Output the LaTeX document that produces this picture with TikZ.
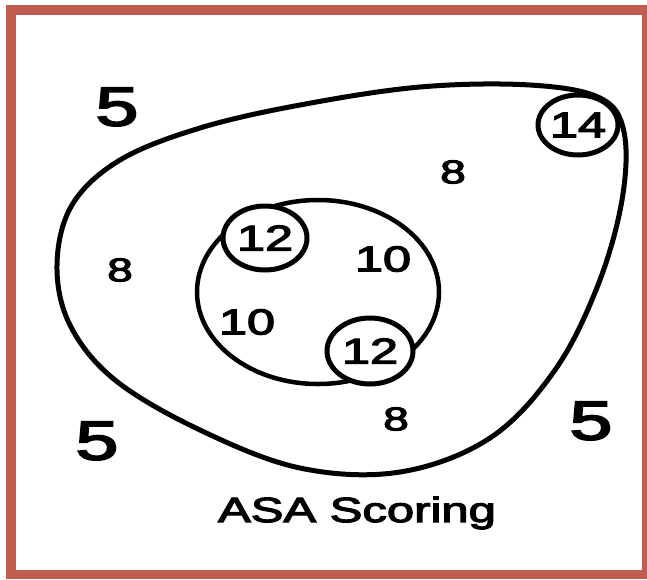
\documentclass[tikz,border=0pt]{standalone}
\usepackage{fontspec}
\setmainfont{Liberation Sans}
\newfontfamily\medf{Liberation Sans}[FakeBold=3]
\usetikzlibrary{shapes.geometric}
\definecolor{framered}{RGB}{192,92,80}
\newcommand\hstretch[1]{\scalebox{1.4}[1]{\medf #1}}
\tikzset{
  bigfive/.style={inner sep=0pt, font=\fontsize{55}{55}\selectfont},
  num/.style={inner sep=0pt, font=\fontsize{36}{36}\selectfont},
  small/.style={inner sep=0pt, font=\fontsize{33}{33}\selectfont},
  ring/.style={draw, ellipse, fill=white, line width=5pt, inner sep=0pt},
  outline/.style={line width=5pt}
}
\begin{document}
\begin{tikzpicture}[x=1pt,y=-1pt]
\useasboundingbox (0,0) rectangle (647,579);
\fill[white] (0,0) rectangle (647,579);
\fill[framered] (6,5) rectangle (647,579);
\fill[white] (16,15) rectangle (642,570);
% outer curve
\draw[outline] plot[smooth cycle, tension=0.6] coordinates {
 (530,85) (600,98) (624,132) (622,200) (598,285) (555,370) (490,438)
 (400,472) (300,468) (200,430) (115,380) (70,325) (57,265) (72,205)
 (120,160) (200,128) (300,105) (420,87)};
% inner ellipse
\node[draw, ellipse, line width=4.5pt, minimum width=242, minimum height=184, inner sep=0pt] (inner) at (318,292) {};
% small rings
\node[ring, minimum width=80, minimum height=60, num] (c14) at (578,125) {\hstretch{14}};
\node[ring, minimum width=84, minimum height=64, num] (c12a) at (265,238) {\hstretch{12}};
\node[ring, minimum width=86, minimum height=66, num] (c12b) at (370,351) {\hstretch{12}};
% labels
\node[bigfive] (f1) at (117,107) {\hstretch{5}};
\node[bigfive] (f2) at (97,441) {\hstretch{5}};
\node[bigfive] (f3) at (591,421) {\hstretch{5}};
\node[small] (e1) at (120,270) {\hstretch{8}};
\node[small] (e2) at (453,172) {\hstretch{8}};
\node[small] (e3) at (396,419) {\hstretch{8}};
\node[num] (t1) at (383,259) {\hstretch{10}};
\node[num] (t2) at (247,322) {\hstretch{10}};
\node[inner sep=0pt, font=\fontsize{35}{35}\selectfont] (title) at (357,513) {\hstretch{ASA Scoring}};
\end{tikzpicture}
\end{document}
